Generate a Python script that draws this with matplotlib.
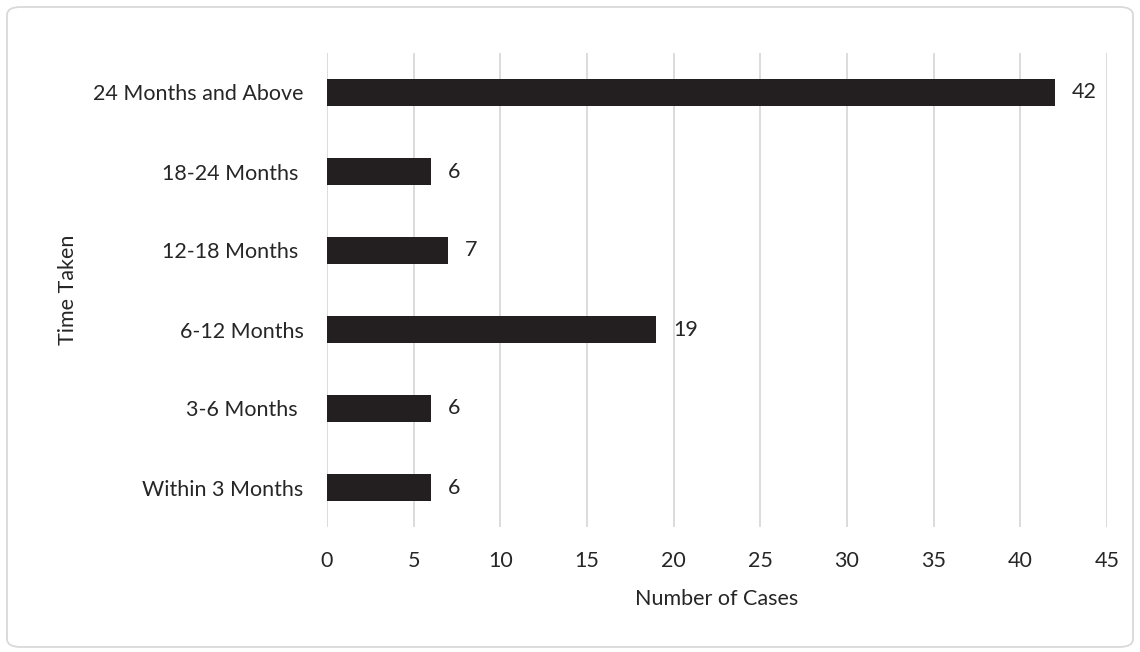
import matplotlib.pyplot as plt
from matplotlib.patches import FancyBboxPatch

# data
categories = ['Within 3 Months', '3-6 Months ', '6-12 Months', '12-18 Months ',
              '18-24 Months ', '24 Months and Above']
cases = [6, 6, 19, 7, 6, 42]
xticks = [0, 5, 10, 15, 20, 25, 30, 35, 40, 45]

plt.rcParams['font.family'] = ['Lato', 'DejaVu Sans']
text_color = '#262626'
bar_color = '#231f20'
grid_color = '#d9d9d9'
fs = 15.5

fig = plt.figure(figsize=(11.4, 6.52), dpi=100)
ax = fig.add_axes([327 / 1140, 1 - 527 / 652, 780 / 1140, 474 / 652])

# outer rounded border
border = FancyBboxPatch((7 / 1140, 5 / 652), 1126 / 1140, 640 / 652,
                        boxstyle='round,pad=0,rounding_size=0.012',
                        transform=fig.transFigure, facecolor='none',
                        edgecolor=grid_color, linewidth=1.3, zorder=0)
fig.patches.append(border)

ax.barh(range(len(categories)), cases, height=0.34, color=bar_color, zorder=3)
for i, v in enumerate(cases):
    ax.annotate(str(v), (v, i), xytext=(12, 0), textcoords='offset points',
                va='center', ha='left', fontsize=fs, color=text_color)

ax.set_xlim(0, 45)
ax.set_ylim(-0.5, len(categories) - 0.5)
ax.set_xticks(xticks)
ax.set_yticks(range(len(categories)))
ax.set_yticklabels(categories)
ax.tick_params(axis='both', length=0, labelsize=fs, colors=text_color)
ax.tick_params(axis='y', pad=17)
ax.tick_params(axis='x', pad=17.5)
ax.grid(axis='x', color=grid_color, linewidth=1.3, zorder=0)
for s in ax.spines.values():
    s.set_visible(False)

ax.set_xlabel('Number of Cases', fontsize=fs, color=text_color, labelpad=13)
ax.set_ylabel('Time Taken', fontsize=fs, color=text_color, labelpad=11)

fig.savefig('out.png', dpi=100)
